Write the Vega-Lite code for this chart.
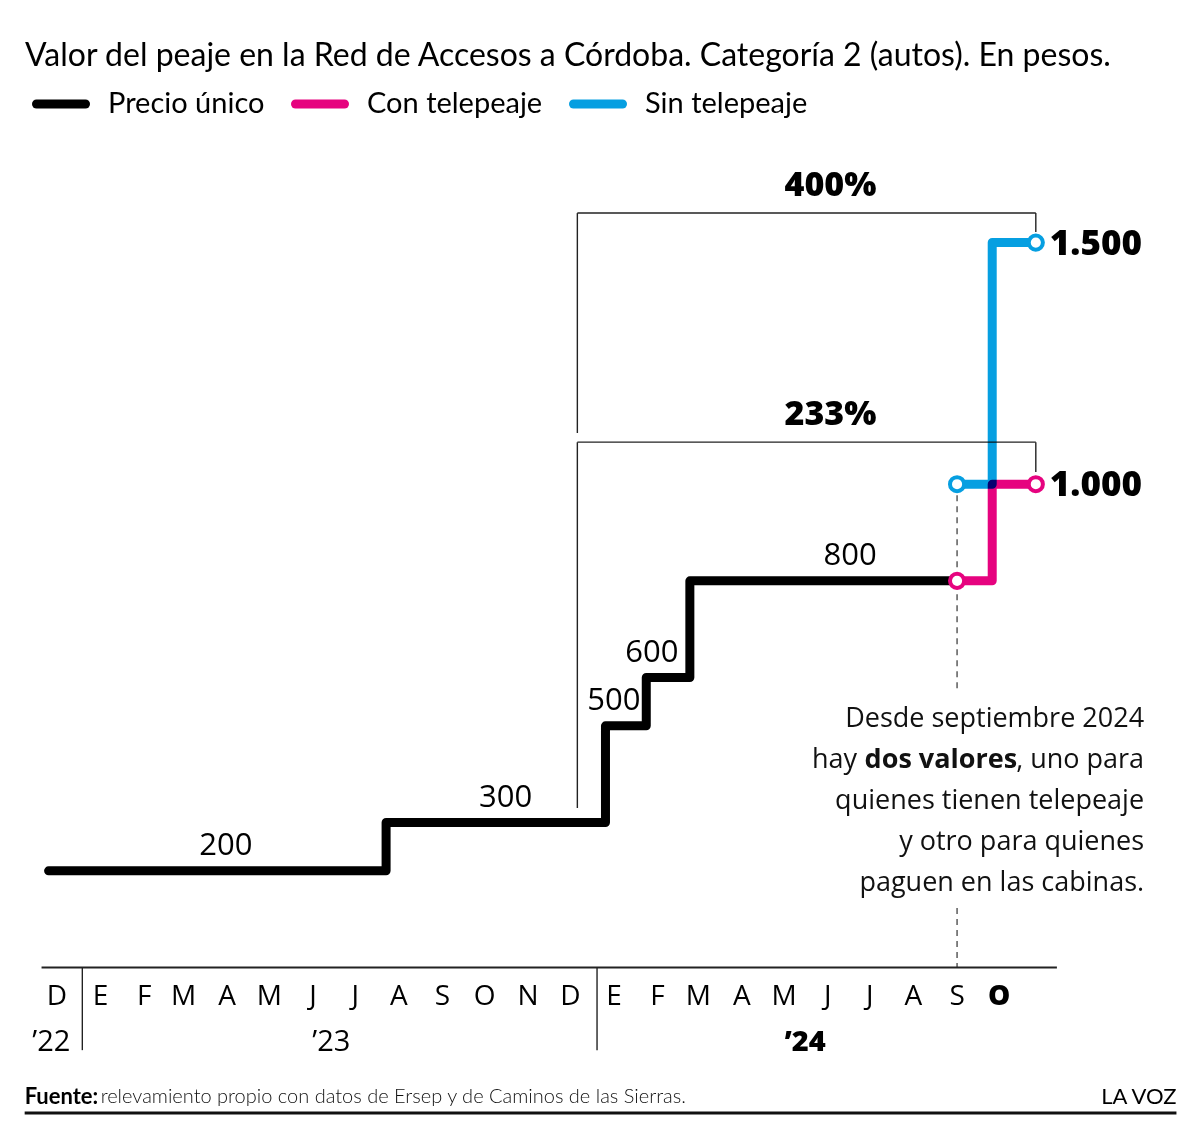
{
  "$schema": "https://vega.github.io/schema/vega-lite/v6.json",
  "width": 1200,
  "height": 997,
  "autosize": {"type": "none"},
  "padding": {"top": 140, "left": 0, "right": 0, "bottom": 0},
  "background": "white",
  "title": {
    "text": "Valor del peaje en la Red de Accesos a Córdoba. Categoría 2 (autos). En pesos.",
    "anchor": "start", "frame": "group", "dx": 25, "dy": 33, "offset": 10, "baseline": "alphabetic",
    "font": "Lato", "fontSize": 32, "fontWeight": "normal", "color": "#000"
  },
  "data": {"values": [{}]},
  "datasets": {
    "serie": [
      {"fecha": "2022-12-09", "valor": 200, "serie": "Precio único", "circulo": false},
      {"fecha": "2023-08-06", "valor": 300, "serie": "Precio único", "circulo": false},
      {"fecha": "2024-01-09", "valor": 500, "serie": "Precio único", "circulo": false},
      {"fecha": "2024-02-07", "valor": 600, "serie": "Precio único", "circulo": false},
      {"fecha": "2024-03-09", "valor": 800, "serie": "Precio único", "circulo": false},
      {"fecha": "2024-09-15", "valor": 800, "serie": "Precio único", "circulo": false},
      {"fecha": "2024-09-15", "valor": 800, "serie": "Con telepeaje", "circulo": true},
      {"fecha": "2024-10-10", "valor": 1000, "serie": "Con telepeaje", "circulo": false},
      {"fecha": "2024-11-10", "valor": 1000, "serie": "Con telepeaje", "circulo": true},
      {"fecha": "2024-09-15", "valor": 1000, "serie": "Sin telepeaje", "circulo": true},
      {"fecha": "2024-10-10", "valor": 1500, "serie": "Sin telepeaje", "circulo": false},
      {"fecha": "2024-11-10", "valor": 1500, "serie": "Sin telepeaje", "circulo": true}
    ],
    "finales": [
      {"fecha": "2024-11-10", "valor": 1500, "texto": "1.500"},
      {"fecha": "2024-11-10", "valor": 1000, "texto": "1.000"}
    ],
    "etiquetas": [
      {"fecha": "2023-04-14", "valor": 200, "texto": "200"},
      {"fecha": "2023-10-30", "valor": 300, "texto": "300"},
      {"fecha": "2024-01-15", "valor": 500, "texto": "500"},
      {"fecha": "2024-02-11", "valor": 600, "texto": "600"},
      {"fecha": "2024-07-01", "valor": 800, "texto": "800"}
    ],
    "porcentajes": [
      {"fecha": "2024-06-17", "valor": 1561, "texto": "400%"},
      {"fecha": "2024-06-17", "valor": 1087, "texto": "233%"}
    ],
    "corchetes": [
      {"f1": "2023-12-20", "f2": "2024-11-10", "v1": 1561, "v2": 1561},
      {"f1": "2023-12-20", "f2": "2023-12-20", "v1": 1561, "v2": 1106},
      {"f1": "2024-11-10", "f2": "2024-11-10", "v1": 1561, "v2": 1522},
      {"f1": "2023-12-20", "f2": "2024-11-10", "v1": 1087, "v2": 1087},
      {"f1": "2023-12-20", "f2": "2023-12-20", "v1": 1087, "v2": 330},
      {"f1": "2024-11-10", "f2": "2024-11-10", "v1": 1087, "v2": 1025}
    ],
    "guia": [
      {"f": "2024-09-15", "v1": 1000, "v2": 574},
      {"f": "2024-09-15", "v1": 123, "v2": 0}
    ],
    "meses": [
      {"fecha": "2022-12-15", "mes": "D", "negrita": false},
      {"fecha": "2023-01-15", "mes": "E", "negrita": false},
      {"fecha": "2023-02-15", "mes": "F", "negrita": false},
      {"fecha": "2023-03-15", "mes": "M", "negrita": false},
      {"fecha": "2023-04-15", "mes": "A", "negrita": false},
      {"fecha": "2023-05-15", "mes": "M", "negrita": false},
      {"fecha": "2023-06-15", "mes": "J", "negrita": false},
      {"fecha": "2023-07-15", "mes": "J", "negrita": false},
      {"fecha": "2023-08-15", "mes": "A", "negrita": false},
      {"fecha": "2023-09-15", "mes": "S", "negrita": false},
      {"fecha": "2023-10-15", "mes": "O", "negrita": false},
      {"fecha": "2023-11-15", "mes": "N", "negrita": false},
      {"fecha": "2023-12-15", "mes": "D", "negrita": false},
      {"fecha": "2024-01-15", "mes": "E", "negrita": false},
      {"fecha": "2024-02-15", "mes": "F", "negrita": false},
      {"fecha": "2024-03-15", "mes": "M", "negrita": false},
      {"fecha": "2024-04-15", "mes": "A", "negrita": false},
      {"fecha": "2024-05-15", "mes": "M", "negrita": false},
      {"fecha": "2024-06-15", "mes": "J", "negrita": false},
      {"fecha": "2024-07-15", "mes": "J", "negrita": false},
      {"fecha": "2024-08-15", "mes": "A", "negrita": false},
      {"fecha": "2024-09-15", "mes": "S", "negrita": false},
      {"fecha": "2024-10-15", "mes": "O", "negrita": true}
    ],
    "anios": [
      {"fecha": "2022-12-11", "anio": "’22", "negrita": false},
      {"fecha": "2023-06-28", "anio": "’23", "negrita": false},
      {"fecha": "2024-05-30", "anio": "’24", "negrita": true}
    ],
    "separadores": [
      {"fecha": "2023-01-02"},
      {"fecha": "2024-01-03"}
    ]
  },
  "layer": [
    {
      "data": {"name": "corchetes"},
      "mark": {"type": "rule", "color": "#222", "strokeWidth": 1.4},
      "encoding": {
        "x": {"field": "f1", "type": "temporal"},
        "x2": {"field": "f2"},
        "y": {"field": "v1", "type": "quantitative"},
        "y2": {"field": "v2"}
      }
    },
    {
      "data": {"name": "guia"},
      "mark": {"type": "rule", "color": "#333", "strokeWidth": 1.2, "strokeDash": [6, 5]},
      "encoding": {
        "x": {"field": "f", "type": "temporal"},
        "y": {"field": "v1", "type": "quantitative"},
        "y2": {"field": "v2"}
      }
    },
    {
      "data": {"name": "separadores"},
      "mark": {"type": "rule", "color": "#222", "strokeWidth": 1.4},
      "encoding": {
        "x": {"field": "fecha", "type": "temporal"},
        "y": {"datum": 0, "type": "quantitative"},
        "y2": {"datum": -171}
      }
    },
    {
      "mark": {"type": "rule", "color": "#222", "strokeWidth": 2},
      "encoding": {
        "x": {"datum": {"year": 2022, "month": 12, "date": 4, "utc": true}, "type": "temporal"},
        "x2": {"datum": {"year": 2024, "month": 11, "date": 25, "utc": true}},
        "y": {"datum": 0, "type": "quantitative"}
      }
    },
    {
      "data": {"name": "serie"},
      "mark": {"type": "line", "interpolate": "step-after", "strokeWidth": 9, "strokeCap": "round", "strokeJoin": "round", "blend": "multiply"},
      "encoding": {
        "x": {
          "field": "fecha", "type": "temporal", "axis": null,
          "scale": {"type": "utc", "nice": false,
            "domain": [{"year": 2022, "month": 11, "date": 4, "hours": 11, "utc": true}, {"year": 2025, "month": 3, "date": 6, "hours": 18, "utc": true}]}
        },
        "y": {
          "field": "valor", "type": "quantitative", "axis": null,
          "scale": {"domain": [-350.7, 1712.2], "nice": false, "zero": false}
        },
        "color": {
          "field": "serie", "type": "nominal",
          "scale": {"domain": ["Precio único", "Con telepeaje", "Sin telepeaje"], "range": ["#000000", "#e6037f", "#069fe1"]},
          "legend": {
            "title": null, "orient": "none", "legendX": 32, "legendY": -65, "direction": "horizontal",
            "symbolType": "stroke", "symbolSize": 2400, "symbolStrokeWidth": 9,
            "labelFont": "Lato", "labelFontSize": 29, "labelColor": "#000", "labelLimit": 0,
            "labelOffset": 18, "columnPadding": 12,
            "encode": {"symbols": {"update": {"strokeCap": {"value": "round"}}}}
          }
        },
        "detail": {"field": "serie"}
      }
    },
    {
      "data": {"name": "serie"},
      "transform": [{"filter": "datum.circulo"}],
      "mark": {"type": "point", "filled": true, "fill": "white", "size": 200, "strokeWidth": 4, "opacity": 1},
      "encoding": {
        "x": {"field": "fecha", "type": "temporal"},
        "y": {"field": "valor", "type": "quantitative"},
        "stroke": {
          "field": "serie", "type": "nominal", "legend": null,
          "scale": {"domain": ["Precio único", "Con telepeaje", "Sin telepeaje"], "range": ["#000000", "#e6037f", "#069fe1"]}
        }
      }
    },
    {
      "data": {"name": "finales"},
      "mark": {"type": "text", "align": "left", "baseline": "middle", "dx": 14, "dy": 1, "font": "Open Sans", "fontWeight": 800, "fontSize": 35, "color": "#000"},
      "encoding": {
        "x": {"field": "fecha", "type": "temporal"},
        "y": {"field": "valor", "type": "quantitative"},
        "text": {"field": "texto"}
      }
    },
    {
      "data": {"name": "etiquetas"},
      "mark": {"type": "text", "align": "center", "baseline": "middle", "dy": -25, "font": "Open Sans", "fontSize": 31, "color": "#000"},
      "encoding": {
        "x": {"field": "fecha", "type": "temporal"},
        "y": {"field": "valor", "type": "quantitative"},
        "text": {"field": "texto"}
      }
    },
    {
      "data": {"name": "porcentajes"},
      "mark": {"type": "text", "align": "center", "baseline": "middle", "dy": -27, "font": "Open Sans", "fontWeight": 800, "fontSize": 34, "color": "#000"},
      "encoding": {
        "x": {"field": "fecha", "type": "temporal"},
        "y": {"field": "valor", "type": "quantitative"},
        "text": {"field": "texto"}
      }
    },
    {
      "data": {"name": "meses"},
      "transform": [{"filter": "!datum.negrita"}],
      "mark": {"type": "text", "align": "center", "baseline": "middle", "font": "Open Sans", "fontSize": 28, "color": "#000"},
      "encoding": {
        "x": {"field": "fecha", "type": "temporal"},
        "y": {"datum": -61, "type": "quantitative"},
        "text": {"field": "mes"}
      }
    },
    {
      "data": {"name": "meses"},
      "transform": [{"filter": "datum.negrita"}],
      "mark": {"type": "text", "align": "center", "baseline": "middle", "font": "Open Sans", "fontWeight": 800, "fontSize": 28, "color": "#000"},
      "encoding": {
        "x": {"field": "fecha", "type": "temporal"},
        "y": {"datum": -61, "type": "quantitative"},
        "text": {"field": "mes"}
      }
    },
    {
      "data": {"name": "anios"},
      "transform": [{"filter": "!datum.negrita"}],
      "mark": {"type": "text", "align": "center", "baseline": "middle", "font": "Open Sans", "fontSize": 29, "color": "#000"},
      "encoding": {
        "x": {"field": "fecha", "type": "temporal"},
        "y": {"datum": -154, "type": "quantitative"},
        "text": {"field": "anio"}
      }
    },
    {
      "data": {"name": "anios"},
      "transform": [{"filter": "datum.negrita"}],
      "mark": {"type": "text", "align": "center", "baseline": "middle", "font": "Open Sans", "fontWeight": 800, "fontSize": 29, "color": "#000"},
      "encoding": {
        "x": {"field": "fecha", "type": "temporal"},
        "y": {"datum": -154, "type": "quantitative"},
        "text": {"field": "anio"}
      }
    },
    {
      "mark": {"type": "text", "align": "right", "baseline": "alphabetic", "font": "Open Sans", "fontSize": 27, "color": "#111",
        "text": "Desde septiembre 2024"},
      "encoding": {
        "x": {"datum": {"year": 2025, "month": 1, "date": 26, "utc": true}, "type": "temporal"},
        "y": {"datum": 497.6, "type": "quantitative"}
      }
    },
    {
      "mark": {"type": "text", "align": "right", "baseline": "alphabetic", "lineHeight": 41, "font": "Open Sans", "fontSize": 27, "color": "#111",
        "text": ["quienes tienen telepeaje", "y otro para quienes", "paguen en las cabinas."]},
      "encoding": {
        "x": {"datum": {"year": 2025, "month": 1, "date": 26, "utc": true}, "type": "temporal"},
        "y": {"datum": 328, "type": "quantitative"}
      }
    },
    {
      "mark": {"type": "text", "align": "right", "baseline": "alphabetic", "font": "Open Sans", "fontSize": 27, "color": "#111", "text": ", uno para"},
      "encoding": {
        "x": {"datum": {"year": 2025, "month": 1, "date": 26, "utc": true}, "type": "temporal"},
        "y": {"datum": 413, "type": "quantitative"}
      }
    },
    {
      "mark": {"type": "text", "align": "right", "baseline": "alphabetic", "dx": -127, "font": "Open Sans", "fontWeight": "bold", "fontSize": 27, "color": "#111", "text": "dos valores"},
      "encoding": {
        "x": {"datum": {"year": 2025, "month": 1, "date": 26, "utc": true}, "type": "temporal"},
        "y": {"datum": 413, "type": "quantitative"}
      }
    },
    {
      "mark": {"type": "text", "align": "right", "baseline": "alphabetic", "dx": -287, "font": "Open Sans", "fontSize": 27, "color": "#111", "text": "hay"},
      "encoding": {
        "x": {"datum": {"year": 2025, "month": 1, "date": 26, "utc": true}, "type": "temporal"},
        "y": {"datum": 413, "type": "quantitative"}
      }
    },
    {
      "mark": {"type": "text", "align": "left", "baseline": "middle", "font": "Lato", "fontWeight": "bold", "fontSize": 22, "color": "#000", "text": "Fuente:"},
      "encoding": {
        "x": {"datum": {"year": 2022, "month": 11, "date": 22, "utc": true}, "type": "temporal"},
        "y": {"datum": -268, "type": "quantitative"}
      }
    },
    {
      "mark": {"type": "text", "align": "left", "baseline": "middle", "dx": 76, "font": "Lato", "fontWeight": 300, "fontSize": 20, "color": "#111", "text": "relevamiento propio con datos de Ersep y de Caminos de las Sierras."},
      "encoding": {
        "x": {"datum": {"year": 2022, "month": 11, "date": 22, "utc": true}, "type": "temporal"},
        "y": {"datum": -268, "type": "quantitative"}
      }
    },
    {
      "mark": {"type": "text", "align": "right", "baseline": "middle", "font": "Lato", "fontSize": 22, "color": "#000", "text": "LA VOZ"},
      "encoding": {
        "x": {"datum": {"year": 2025, "month": 2, "date": 18, "utc": true}, "type": "temporal"},
        "y": {"datum": -268, "type": "quantitative"}
      }
    },
    {
      "mark": {"type": "rule", "color": "#111", "strokeWidth": 3},
      "encoding": {
        "x": {"datum": {"year": 2022, "month": 11, "date": 22, "utc": true}, "type": "temporal"},
        "x2": {"datum": {"year": 2025, "month": 2, "date": 18, "utc": true}},
        "y": {"datum": -301, "type": "quantitative"}
      }
    }
  ],
  "config": {
    "view": {"stroke": null},
    "axis": {"disable": true},
    "font": "Open Sans"
  }
}
